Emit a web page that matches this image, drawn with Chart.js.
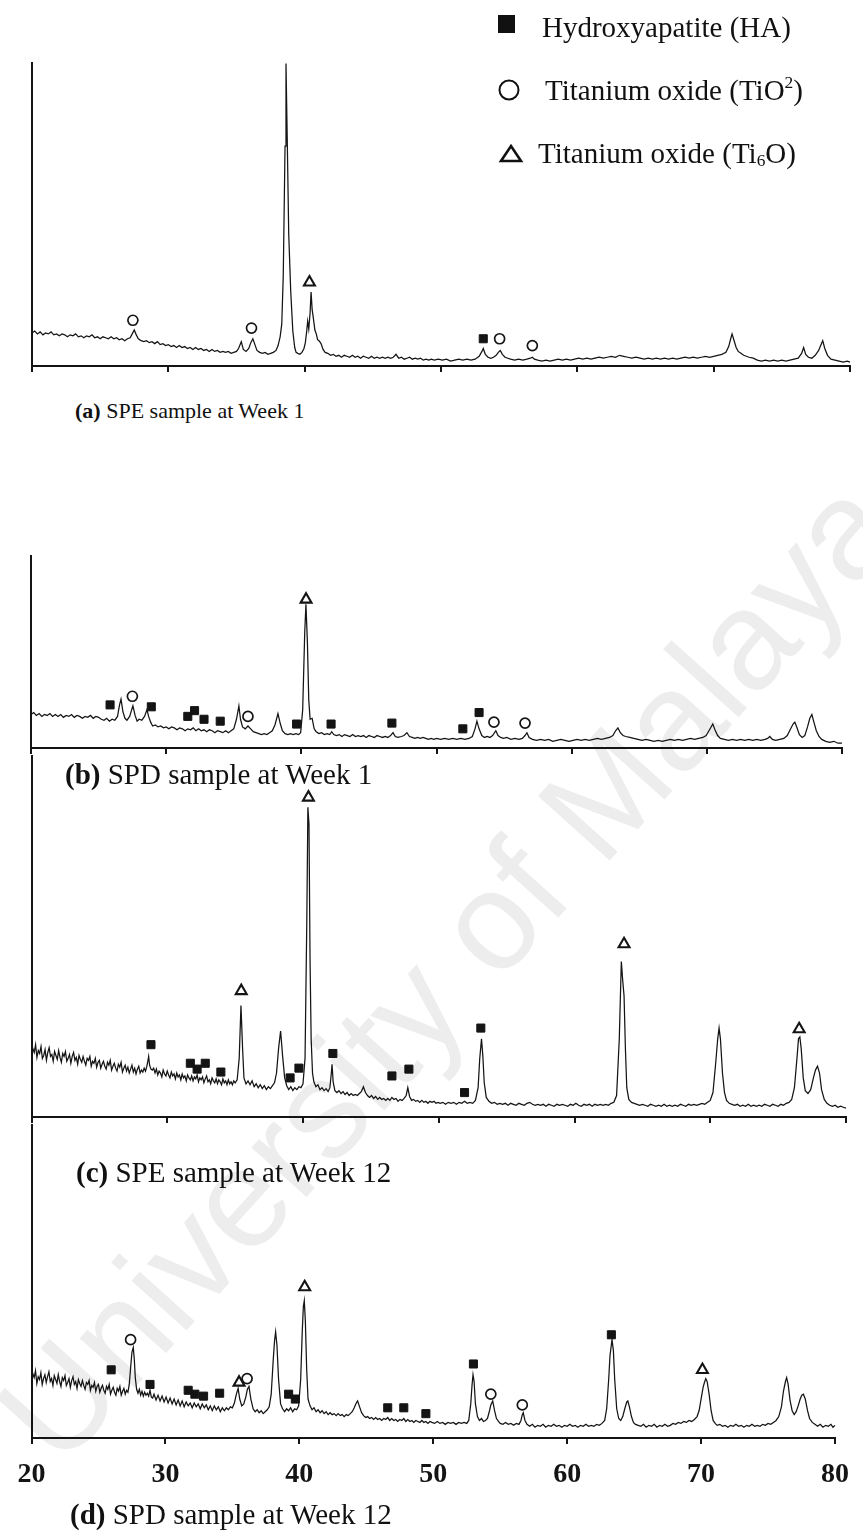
<!DOCTYPE html>
<html>
<head>
<meta charset="utf-8">
<script src="https://cdn.jsdelivr.net/npm/chart.js@4.4.0/dist/chart.umd.min.js"></script>
<style>
  html, body { margin: 0; padding: 0; background: #fff; }
  #page { position: relative; width: 863px; height: 1535px; overflow: hidden; background: #fff;
          font-family: "Liberation Serif", "Times New Roman", serif; color: #111; }
  .wm { position: absolute; white-space: nowrap; line-height: 1; font-size: 140px;
        font-family: "Liberation Sans", Arial, sans-serif; color: #ededed; z-index: 0; }
  canvas.panel { position: absolute; left: 0; z-index: 1; }
  .txt { position: absolute; white-space: nowrap; line-height: 1; z-index: 2; }
  .cap b { font-weight: bold; }
  #legendMarks { position: absolute; left: 0; top: 0; z-index: 2; }
  sup { font-size: 0.6em; vertical-align: 0.7em; line-height: 0; }
  sub { font-size: 0.6em; vertical-align: -0.15em; line-height: 0; }
</style>
</head>
<body>
<div id="page">
  <div class="wm" id="wm">University of Malaya</div>

  <canvas class="panel" id="pa"></canvas>
  <canvas class="panel" id="pb"></canvas>
  <canvas class="panel" id="pc"></canvas>
  <canvas class="panel" id="pd"></canvas>

  <svg id="legendMarks" width="863" height="200">
    <rect x="498" y="15" width="17" height="18" fill="#111"/>
    <circle cx="509" cy="90" r="9.5" fill="none" stroke="#111" stroke-width="2"/>
    <polygon points="501,161 521,161 511,146" fill="none" stroke="#111" stroke-width="2.6" stroke-linejoin="miter"/>
  </svg>
  <div class="txt cap" id="lg1"></div>
  <div class="txt cap" id="lg2"></div>
  <div class="txt cap" id="lg3"></div>

  <div class="txt cap" id="capA"></div>
  <div class="txt cap" id="capB"></div>
  <div class="txt cap" id="capC"></div>
  <div class="txt cap" id="capD"></div>
</div>

<script>
// ---- 2θ scan traces, intensity in arbitrary units above each baseline ----
const traceA = [[20.0,34],[20.2,36],[20.4,33],[20.6,35],[20.8,32],[21.0,34],[21.2,33],[21.4,35],[21.6,32],[21.8,33],[22.0,31],[22.2,33],[22.4,32],[22.6,30],[22.8,32],[23.0,31],[23.2,33],[23.4,30],[23.6,31],[23.8,29],[24.0,31],[24.2,30],[24.4,32],[24.6,29],[24.8,30],[25.0,28],[25.2,30],[25.4,29],[25.6,28],[25.8,30],[26.0,28],[26.2,29],[26.4,27],[26.6,28],[26.8,26],[27.0,28],[27.2,29],[27.35,33],[27.5,37],[27.65,32],[27.8,28],[28.0,26],[28.2,25],[28.4,26],[28.6,24],[28.8,25],[29.0,23],[29.2,25],[29.4,22],[29.6,23],[29.8,21],[30.0,22],[30.2,20],[30.4,21],[30.6,19],[30.8,21],[31.0,19],[31.2,20],[31.4,18],[31.6,19],[31.8,17],[32.0,19],[32.2,17],[32.4,18],[32.6,16],[32.8,17],[33.0,15],[33.2,17],[33.4,15],[33.6,16],[33.8,14],[34.0,15],[34.2,14],[34.4,15],[34.6,13],[34.8,14],[35.0,15],[35.15,18],[35.35,25],[35.5,17],[35.7,15],[35.9,18],[36.05,24],[36.2,28],[36.35,22],[36.5,16],[36.7,14],[36.9,13],[37.1,14],[37.3,12],[37.5,13],[37.7,14],[37.9,16],[38.05,21],[38.2,30],[38.32,43],[38.43,93],[38.56,226],[38.63,311],[38.73,226],[38.83,136],[38.98,76],[39.13,36],[39.27,19],[39.37,14],[39.5,13],[39.65,12],[39.8,14],[39.95,18],[40.05,24],[40.15,36],[40.22,46],[40.3,38],[40.4,55],[40.47,76],[40.55,58],[40.65,48],[40.75,37],[40.85,33],[40.95,27],[41.05,26],[41.2,23],[41.35,17],[41.5,14],[41.7,13],[41.9,11],[42.1,12],[42.3,10],[42.5,11],[42.7,9],[42.9,11],[43.1,10],[43.3,9],[43.5,11],[43.7,9],[43.9,10],[44.1,8],[44.3,10],[44.5,9],[44.7,8],[44.9,10],[45.1,8],[45.3,9],[45.5,8],[45.7,9],[45.9,8],[46.1,9],[46.3,8],[46.5,9],[46.7,12],[46.9,8],[47.1,9],[47.3,7],[47.5,8],[47.7,9],[47.9,7],[48.1,8],[48.3,7],[48.5,8],[48.7,6],[48.9,7],[49.1,6],[49.3,7],[49.5,6],[49.8,7],[50.1,6],[50.4,7],[50.7,5],[51.0,6],[51.3,7],[51.6,6],[51.9,7],[52.2,6],[52.5,7],[52.8,10],[53.0,15],[53.1,18],[53.25,12],[53.45,9],[53.65,8],[53.85,9],[54.05,11],[54.2,14],[54.35,16],[54.5,12],[54.7,9],[54.9,8],[55.1,7],[55.4,6],[55.7,7],[56.0,6],[56.3,7],[56.55,8],[56.7,9],[56.85,7],[57.1,6],[57.4,5],[57.7,6],[58.0,5],[58.3,6],[58.6,7],[58.9,6],[59.2,7],[59.5,6],[59.8,7],[60.1,8],[60.4,7],[60.7,8],[61.0,7],[61.3,8],[61.6,9],[61.9,8],[62.2,9],[62.5,10],[62.8,9],[63.1,11],[63.4,10],[63.7,9],[64.0,8],[64.3,9],[64.6,8],[64.9,7],[65.2,8],[65.5,7],[65.8,8],[66.1,7],[66.4,8],[66.7,7],[67.0,8],[67.3,7],[67.6,8],[67.9,9],[68.2,8],[68.5,9],[68.8,8],[69.1,9],[69.4,10],[69.7,9],[70.0,10],[70.3,11],[70.6,12],[70.9,14],[71.1,20],[71.25,28],[71.35,33],[71.5,26],[71.65,19],[71.8,15],[72.0,13],[72.2,11],[72.4,10],[72.6,9],[72.9,8],[73.2,6],[73.5,5],[73.8,6],[74.1,5],[74.4,6],[74.7,5],[75.0,6],[75.3,5],[75.6,6],[75.9,7],[76.2,8],[76.45,13],[76.6,19],[76.75,12],[76.95,9],[77.2,8],[77.45,11],[77.7,16],[77.85,21],[78.0,26],[78.15,18],[78.35,11],[78.6,7],[78.9,6],[79.2,5],[79.5,4],[79.8,5],[80.0,4]];

const traceB = [[20.0,35],[20.2,37],[20.4,34],[20.6,36],[20.8,33],[21.0,35],[21.2,34],[21.4,36],[21.6,33],[21.8,35],[22.0,33],[22.2,35],[22.4,32],[22.6,34],[22.8,33],[23.0,35],[23.2,32],[23.4,34],[23.6,33],[23.8,31],[24.0,33],[24.2,32],[24.4,34],[24.6,31],[24.8,33],[25.0,32],[25.2,30],[25.4,29],[25.6,31],[25.8,28],[26.0,30],[26.2,29],[26.4,33],[26.55,45],[26.66,51],[26.8,38],[26.95,31],[27.1,29],[27.3,33],[27.45,40],[27.54,44],[27.7,34],[27.85,28],[28.0,30],[28.2,29],[28.4,33],[28.58,40],[28.7,33],[28.85,27],[29.0,23],[29.2,24],[29.4,22],[29.6,23],[29.8,21],[30.0,22],[30.2,20],[30.4,22],[30.6,21],[30.8,19],[31.0,21],[31.2,20],[31.4,18],[31.6,20],[31.8,19],[32.0,21],[32.2,18],[32.4,20],[32.6,18],[32.8,19],[33.0,17],[33.2,19],[33.4,18],[33.6,16],[33.8,18],[34.0,17],[34.2,16],[34.4,18],[34.6,16],[34.8,18],[35.0,20],[35.2,30],[35.38,44],[35.5,30],[35.65,22],[35.85,20],[36.05,23],[36.25,20],[36.45,17],[36.65,16],[36.85,15],[37.05,14],[37.25,15],[37.45,14],[37.65,16],[37.85,18],[38.05,24],[38.27,36],[38.45,25],[38.6,18],[38.8,15],[39.0,14],[39.2,15],[39.4,14],[39.6,15],[39.8,14],[39.95,16],[40.1,40],[40.25,120],[40.34,150],[40.45,110],[40.55,50],[40.65,30],[40.8,31],[40.95,20],[41.1,17],[41.3,15],[41.5,16],[41.7,14],[41.9,15],[42.1,14],[42.25,17],[42.4,14],[42.6,13],[42.8,14],[43.0,12],[43.2,14],[43.4,13],[43.6,12],[43.8,14],[44.0,12],[44.2,13],[44.4,12],[44.6,13],[44.8,11],[45.0,13],[45.2,12],[45.4,11],[45.6,13],[45.8,12],[46.0,11],[46.2,12],[46.4,11],[46.6,13],[46.78,16],[46.95,12],[47.15,11],[47.4,12],[47.6,13],[47.81,16],[48.0,12],[48.2,11],[48.4,10],[48.6,11],[48.8,10],[49.0,11],[49.2,10],[49.4,9],[49.6,10],[49.8,9],[50.0,10],[50.3,9],[50.6,10],[50.9,9],[51.2,10],[51.5,9],[51.8,10],[52.1,9],[52.4,10],[52.65,12],[52.85,20],[52.99,28],[53.15,20],[53.35,13],[53.55,11],[53.75,12],[53.95,11],[54.15,13],[54.39,18],[54.55,13],[54.75,11],[54.95,10],[55.2,11],[55.5,9],[55.8,10],[56.1,9],[56.35,10],[56.55,13],[56.69,16],[56.85,11],[57.1,9],[57.4,8],[57.7,9],[58.0,8],[58.3,9],[58.6,7],[58.9,8],[59.2,9],[59.5,8],[59.8,7],[60.1,8],[60.4,9],[60.7,8],[61.0,9],[61.3,8],[61.6,9],[61.9,10],[62.2,9],[62.5,10],[62.8,11],[63.05,13],[63.25,18],[63.42,21],[63.6,16],[63.8,13],[64.0,12],[64.3,11],[64.6,10],[64.9,9],[65.2,8],[65.5,9],[65.8,8],[66.1,7],[66.4,8],[66.7,7],[67.0,8],[67.3,9],[67.6,8],[67.9,9],[68.2,8],[68.5,9],[68.8,10],[69.1,9],[69.4,10],[69.7,11],[69.95,13],[70.2,19],[70.44,25],[70.6,19],[70.8,13],[71.0,10],[71.3,9],[71.6,8],[71.9,9],[72.2,8],[72.5,9],[72.8,8],[73.1,9],[73.4,8],[73.7,9],[74.0,8],[74.3,9],[74.5,10],[74.66,12],[74.85,9],[75.1,8],[75.4,9],[75.7,10],[75.95,13],[76.2,20],[76.38,25],[76.51,27],[76.65,22],[76.85,14],[77.05,11],[77.25,13],[77.45,22],[77.62,31],[77.77,35],[77.92,27],[78.1,18],[78.3,12],[78.5,9],[78.8,7],[79.1,6],[79.4,7],[79.7,5],[80.0,5]];

const traceC = [[20.0,63],[20.1,70],[20.2,66],[20.3,74],[20.4,61],[20.5,68],[20.6,65],[20.7,72],[20.8,60],[20.9,63],[21.0,69],[21.1,58],[21.2,66],[21.3,71],[21.4,62],[21.5,64],[21.6,57],[21.7,67],[21.8,63],[21.9,59],[22.0,68],[22.1,61],[22.2,56],[22.3,65],[22.4,62],[22.5,67],[22.6,57],[22.7,60],[22.8,64],[22.9,55],[23.0,62],[23.1,66],[23.2,58],[23.3,61],[23.4,54],[23.5,63],[23.6,59],[23.7,56],[23.8,62],[23.9,57],[24.0,53],[24.1,60],[24.2,58],[24.3,62],[24.4,52],[24.5,57],[24.6,55],[24.7,60],[24.8,51],[24.9,56],[25.0,58],[25.1,50],[25.2,54],[25.3,57],[25.4,52],[25.5,49],[25.6,56],[25.7,53],[25.8,58],[25.9,48],[26.0,52],[26.1,55],[26.2,50],[26.3,47],[26.4,54],[26.5,51],[26.6,56],[26.7,46],[26.8,50],[26.9,53],[27.0,47],[27.1,51],[27.2,45],[27.3,49],[27.4,53],[27.5,46],[27.6,50],[27.7,44],[27.8,49],[27.9,52],[28.0,45],[28.1,48],[28.2,46],[28.3,50],[28.4,47],[28.5,52],[28.58,58],[28.63,62],[28.7,53],[28.8,49],[28.9,48],[29.0,50],[29.1,45],[29.2,49],[29.3,43],[29.4,47],[29.5,45],[29.6,41],[29.7,48],[29.8,44],[29.9,42],[30.0,47],[30.1,43],[30.2,40],[30.3,46],[30.4,42],[30.5,44],[30.6,39],[30.7,45],[30.8,41],[30.9,43],[31.0,38],[31.1,44],[31.2,40],[31.3,42],[31.4,37],[31.5,43],[31.6,40],[31.7,38],[31.8,42],[31.9,37],[32.0,41],[32.1,39],[32.2,43],[32.3,36],[32.4,40],[32.5,38],[32.6,41],[32.7,35],[32.8,39],[32.9,42],[33.0,36],[33.1,38],[33.2,34],[33.3,40],[33.4,37],[33.5,35],[33.6,39],[33.7,34],[33.8,38],[33.9,36],[34.0,33],[34.1,39],[34.2,35],[34.3,37],[34.4,33],[34.5,38],[34.6,34],[34.7,36],[34.8,33],[34.9,37],[35.0,35],[35.15,38],[35.3,60],[35.43,114],[35.55,70],[35.65,40],[35.8,34],[35.95,37],[36.1,33],[36.25,37],[36.4,31],[36.55,34],[36.7,30],[36.85,33],[37.0,29],[37.15,32],[37.3,28],[37.45,31],[37.6,29],[37.75,32],[37.9,35],[38.05,45],[38.2,70],[38.35,88],[38.5,62],[38.65,40],[38.8,32],[38.95,28],[39.1,31],[39.25,27],[39.4,30],[39.55,28],[39.7,31],[39.85,30],[40.0,34],[40.15,60],[40.28,200],[40.36,317],[40.44,300],[40.52,160],[40.6,80],[40.7,45],[40.8,36],[40.95,31],[41.1,33],[41.25,28],[41.4,30],[41.55,27],[41.7,29],[41.85,26],[41.98,30],[42.08,44],[42.14,54],[42.22,36],[42.35,27],[42.5,25],[42.65,27],[42.8,24],[42.95,26],[43.1,23],[43.25,25],[43.4,22],[43.55,24],[43.7,22],[43.85,23],[44.0,22],[44.15,24],[44.3,26],[44.45,31],[44.6,25],[44.75,22],[44.9,20],[45.05,22],[45.2,19],[45.35,21],[45.5,18],[45.65,20],[45.8,18],[45.95,19],[46.1,17],[46.25,19],[46.4,17],[46.55,20],[46.7,18],[46.85,19],[47.0,16],[47.15,18],[47.3,17],[47.45,19],[47.6,22],[47.72,30],[47.85,21],[48.0,17],[48.15,18],[48.3,16],[48.45,17],[48.6,15],[48.75,17],[48.9,15],[49.05,16],[49.2,14],[49.35,16],[49.5,15],[49.65,16],[49.8,14],[49.95,15],[50.1,14],[50.3,15],[50.5,13],[50.7,15],[50.9,14],[51.1,15],[51.3,13],[51.5,15],[51.7,14],[51.9,16],[52.1,14],[52.3,15],[52.5,14],[52.7,17],[52.9,30],[53.02,60],[53.15,80],[53.25,62],[53.35,35],[53.5,20],[53.7,16],[53.9,14],[54.1,15],[54.3,13],[54.5,14],[54.7,13],[54.9,14],[55.1,12],[55.3,14],[55.5,13],[55.7,12],[55.9,14],[56.1,13],[56.3,12],[56.5,14],[56.7,15],[56.9,13],[57.1,12],[57.3,13],[57.5,12],[57.7,13],[57.9,11],[58.1,13],[58.3,12],[58.5,11],[58.7,13],[58.9,12],[59.1,13],[59.3,12],[59.5,11],[59.7,13],[59.9,12],[60.1,14],[60.3,12],[60.5,11],[60.7,13],[60.9,12],[61.1,13],[61.3,11],[61.5,13],[61.7,12],[61.9,13],[62.1,12],[62.3,13],[62.5,12],[62.7,14],[62.9,15],[63.1,22],[63.3,80],[63.45,159],[63.55,140],[63.65,124],[63.75,70],[63.85,30],[64.0,18],[64.2,15],[64.4,14],[64.6,13],[64.8,12],[65.0,13],[65.2,12],[65.4,11],[65.6,13],[65.8,12],[66.0,11],[66.2,12],[66.4,11],[66.6,13],[66.8,11],[67.0,12],[67.2,11],[67.4,12],[67.6,11],[67.8,13],[68.0,12],[68.2,11],[68.4,13],[68.6,12],[68.8,13],[69.0,12],[69.2,13],[69.4,14],[69.6,13],[69.8,15],[70.0,17],[70.2,25],[70.4,55],[70.55,80],[70.65,91],[70.75,80],[70.9,45],[71.05,25],[71.2,17],[71.4,14],[71.6,13],[71.8,12],[72.0,13],[72.2,11],[72.4,12],[72.6,11],[72.8,13],[73.0,11],[73.2,12],[73.4,11],[73.6,12],[73.8,11],[74.0,13],[74.2,12],[74.4,11],[74.6,13],[74.8,12],[75.0,11],[75.2,13],[75.4,12],[75.6,14],[75.8,15],[76.0,18],[76.2,30],[76.4,62],[76.5,80],[76.6,82],[76.7,70],[76.85,40],[77.0,27],[77.2,24],[77.4,28],[77.6,40],[77.75,48],[77.9,52],[78.05,45],[78.2,28],[78.4,18],[78.6,14],[78.8,12],[79.0,11],[79.2,12],[79.4,10],[79.6,11],[79.8,10],[80.0,9]];

const traceD = [[20.0,59],[20.1,66],[20.2,62],[20.3,69],[20.4,56],[20.5,63],[20.6,60],[20.7,67],[20.8,55],[20.9,61],[21.0,65],[21.1,57],[21.2,63],[21.3,68],[21.4,58],[21.5,61],[21.6,54],[21.7,64],[21.8,60],[21.9,56],[22.0,65],[22.1,58],[22.2,53],[22.3,62],[22.4,59],[22.5,64],[22.6,54],[22.7,57],[22.8,61],[22.9,52],[23.0,59],[23.1,63],[23.2,55],[23.3,58],[23.4,51],[23.5,60],[23.6,56],[23.7,53],[23.8,59],[23.9,54],[24.0,50],[24.1,57],[24.2,55],[24.3,59],[24.4,49],[24.5,54],[24.6,52],[24.7,57],[24.8,48],[24.9,53],[25.0,55],[25.1,47],[25.2,51],[25.3,54],[25.4,49],[25.5,46],[25.6,53],[25.7,50],[25.8,55],[25.9,45],[26.0,49],[26.1,52],[26.2,47],[26.3,44],[26.4,51],[26.5,48],[26.6,53],[26.7,44],[26.8,48],[26.9,51],[27.0,45],[27.1,49],[27.2,47],[27.3,55],[27.4,72],[27.5,88],[27.6,93],[27.68,80],[27.75,62],[27.85,50],[27.95,46],[28.05,50],[28.15,44],[28.25,48],[28.35,43],[28.45,47],[28.55,44],[28.65,46],[28.75,43],[28.85,49],[28.95,42],[29.05,41],[29.15,45],[29.3,39],[29.45,44],[29.6,38],[29.75,43],[29.9,37],[30.05,42],[30.2,36],[30.35,41],[30.5,35],[30.65,40],[30.8,34],[30.95,39],[31.1,33],[31.25,38],[31.4,32],[31.55,37],[31.7,33],[31.85,36],[32.0,31],[32.15,36],[32.3,32],[32.45,35],[32.6,30],[32.75,35],[32.9,31],[33.05,34],[33.2,29],[33.35,33],[33.5,28],[33.65,33],[33.8,29],[33.95,32],[34.1,27],[34.25,31],[34.4,28],[34.55,31],[34.7,29],[34.85,32],[35.0,31],[35.15,36],[35.3,45],[35.43,51],[35.55,40],[35.7,33],[35.85,35],[36.0,42],[36.12,50],[36.24,53],[36.38,40],[36.55,30],[36.7,27],[36.85,29],[37.0,26],[37.15,28],[37.3,25],[37.45,27],[37.6,29],[37.75,32],[37.9,45],[38.05,80],[38.15,100],[38.23,109],[38.33,95],[38.45,60],[38.6,35],[38.75,30],[38.9,27],[39.05,30],[39.2,28],[39.35,31],[39.5,27],[39.65,30],[39.8,29],[39.95,33],[40.1,60],[40.22,110],[40.3,135],[40.37,141],[40.45,120],[40.55,70],[40.65,40],[40.8,33],[40.95,29],[41.1,31],[41.25,27],[41.4,29],[41.55,26],[41.7,28],[41.85,25],[42.0,27],[42.15,24],[42.3,26],[42.45,24],[42.6,25],[42.75,23],[42.9,25],[43.05,23],[43.2,24],[43.35,22],[43.5,24],[43.65,23],[43.8,25],[43.95,27],[44.1,31],[44.25,36],[44.35,38],[44.5,32],[44.65,26],[44.8,23],[44.95,21],[45.1,22],[45.25,20],[45.4,21],[45.55,19],[45.7,21],[45.85,19],[46.0,20],[46.15,18],[46.3,20],[46.45,19],[46.6,21],[46.75,18],[46.9,20],[47.05,18],[47.2,19],[47.35,17],[47.5,19],[47.65,18],[47.8,20],[47.95,17],[48.1,19],[48.25,17],[48.4,18],[48.55,16],[48.7,18],[48.85,17],[49.0,16],[49.15,18],[49.3,16],[49.45,17],[49.6,15],[49.75,17],[49.9,16],[50.1,15],[50.3,17],[50.5,15],[50.7,16],[50.9,14],[51.1,16],[51.3,15],[51.5,16],[51.7,14],[51.9,16],[52.1,15],[52.3,16],[52.5,15],[52.65,18],[52.8,35],[52.9,55],[52.97,65],[53.05,58],[53.15,35],[53.3,22],[53.45,18],[53.6,20],[53.75,17],[53.9,18],[54.05,20],[54.2,28],[54.3,34],[54.44,38],[54.58,28],[54.72,20],[54.87,17],[55.0,15],[55.2,14],[55.4,16],[55.6,14],[55.8,15],[56.0,13],[56.2,15],[56.4,14],[56.55,18],[56.65,24],[56.72,26],[56.85,18],[57.0,14],[57.2,12],[57.4,14],[57.6,11],[57.8,13],[58.0,12],[58.2,14],[58.4,11],[58.6,13],[58.8,12],[59.0,14],[59.2,12],[59.4,13],[59.6,11],[59.8,13],[60.0,12],[60.2,14],[60.4,12],[60.6,13],[60.8,11],[61.0,13],[61.2,12],[61.4,14],[61.6,12],[61.8,13],[62.0,12],[62.2,14],[62.4,13],[62.6,15],[62.8,18],[62.95,30],[63.1,60],[63.2,85],[63.35,101],[63.45,90],[63.55,60],[63.7,30],[63.85,20],[64.0,18],[64.15,22],[64.3,30],[64.45,37],[64.53,38],[64.65,32],[64.8,22],[64.95,16],[65.1,14],[65.3,13],[65.5,12],[65.7,14],[65.9,11],[66.1,13],[66.3,12],[66.5,14],[66.7,11],[66.9,13],[67.1,12],[67.3,14],[67.5,12],[67.7,13],[67.9,15],[68.1,14],[68.3,16],[68.5,15],[68.7,17],[68.9,16],[69.1,18],[69.3,17],[69.5,19],[69.7,22],[69.85,28],[70.0,40],[70.15,52],[70.25,57],[70.35,61],[70.45,58],[70.6,45],[70.75,28],[70.9,18],[71.05,15],[71.2,13],[71.4,14],[71.6,12],[71.8,13],[72.0,11],[72.2,13],[72.4,12],[72.6,14],[72.8,12],[73.0,13],[73.2,11],[73.4,13],[73.6,12],[73.8,14],[74.0,12],[74.2,13],[74.4,12],[74.6,14],[74.8,13],[75.0,15],[75.2,14],[75.4,16],[75.6,18],[75.8,22],[76.0,32],[76.15,48],[76.3,58],[76.39,62],[76.5,55],[76.65,38],[76.8,28],[76.95,24],[77.1,27],[77.25,33],[77.4,40],[77.52,44],[77.64,45],[77.78,40],[77.95,28],[78.1,20],[78.3,16],[78.5,14],[78.7,12],[78.9,14],[79.1,11],[79.3,13],[79.5,12],[79.7,14],[79.85,11],[80.0,13]];

// ---- phase identification marks: [2θ, height of the mark] ----
const haA = [[53.1,28]];
const tio2A = [[27.4,47],[36.1,39],[54.3,28],[56.7,21]];
const ti6oA = [[40.35,86]];

const haB = [[25.85,45],[28.9,43],[31.6,33],[32.1,39],[32.8,30],[34.0,28],[39.65,25],[42.2,25],[46.7,26],[51.95,20],[53.15,37]];
const tio2B = [[27.5,54],[36.05,33],[54.25,27],[56.55,26]];
const ti6oB = [[40.35,155]];

const haC = [[28.8,74],[31.7,55],[32.2,49],[32.8,55],[33.95,46],[39.05,40],[39.7,50],[42.2,65],[46.55,42],[47.8,49],[51.9,25],[53.1,91]];
const tio2C = [];
const ti6oC = [[35.45,129],[40.4,327],[63.65,177],[76.55,90]];

const haD = [[25.95,70],[28.85,55],[31.7,49],[32.2,45],[32.85,43],[34.05,46],[39.2,45],[39.7,40],[46.6,31],[47.8,31],[49.45,25],[53.0,76],[63.3,106]];
const tio2D = [[27.4,101],[36.1,61],[54.3,45],[56.65,34]];
const ti6oD = [[35.5,57],[40.4,155],[70.1,70]];

// ---- axis ticks and texts ----
const angleTicks = [20, 30, 40, 50, 60, 70, 80];
const legendNames = ['Hydroxyapatite (HA)', 'Titanium oxide (TiO<sup>2</sup>)', 'Titanium oxide (Ti<sub>6</sub>O)'];
const panelTags = ['(a)', '(b)', '(c)', '(d)'];
const panelNames = ['SPE sample at Week 1', 'SPD sample at Week 1', 'SPE sample at Week 12', 'SPD sample at Week 12'];

// ---- page layout (pixels) ----
const PAGE_W = 863;
const frames = {
  a: { top: 55,   axis: 366,  x0: 32,   x1: 850 },
  b: { top: 548,  axis: 748,  x0: 31,   x1: 842 },
  c: { top: 748,  axis: 1117, x0: 31.5, x1: 846 },
  d: { top: 1117, axis: 1438, x0: 31.5, x1: 846 }
};

const INK = '#141414';

function toXY(arr) { return arr.map(p => ({ x: p[0], y: p[1] })); }

function markSet(points, style, radius, fill, bw) {
  return {
    type: 'scatter',
    data: toXY(points),
    showLine: false,
    pointStyle: style,
    pointRadius: radius,
    pointBackgroundColor: fill,
    pointBorderColor: INK,
    pointBorderWidth: bw,
    clip: false,
    order: 0
  };
}

function drawPanel(canvasId, fr, trace, ha, tio2, ti6o, withLabels) {
  const cv = document.getElementById(canvasId);
  const axisH = withLabels ? 62 : 10;
  const plotH = fr.axis - fr.top;
  cv.width = PAGE_W;
  cv.height = plotH + axisH;
  cv.style.top = fr.top + 'px';
  cv.style.width = PAGE_W + 'px';
  cv.style.height = (plotH + axisH) + 'px';

  new Chart(cv, {
    type: 'line',
    data: {
      datasets: [
        { data: toXY(trace), borderColor: INK, borderWidth: 1.25, pointRadius: 0, tension: 0, fill: false, clip: false, order: 1 },
        markSet(ha, 'rect', 5.7, INK, 1),
        markSet(tio2, 'circle', 5, '#ffffff', 1.7),
        markSet(ti6o, 'triangle', 6.3, '#ffffff', 2.1)
      ]
    },
    options: {
      responsive: false,
      animation: false,
      devicePixelRatio: 1,
      events: [],
      layout: { padding: { left: fr.x0, right: PAGE_W - fr.x1, top: 0, bottom: 0 } },
      plugins: { legend: { display: false }, tooltip: { enabled: false } },
      scales: {
        x: {
          type: 'linear', min: 20, max: 80,
          afterBuildTicks: s => { s.ticks = angleTicks.map(v => ({ value: v })); },
          afterFit: s => { s.height = axisH; },
          ticks: {
            display: withLabels, maxRotation: 0, autoSkip: false, padding: 14,
            color: INK, font: { family: '"Liberation Serif", "Times New Roman", serif', size: 28, weight: 'bold' }
          },
          grid: { display: true, drawOnChartArea: false, drawTicks: true, tickLength: 6, tickWidth: 2, tickColor: INK, color: INK, lineWidth: 2 },
          border: { display: true, color: INK, width: 2 }
        },
        y: {
          min: 0, max: plotH,
          afterFit: s => { s.width = 0; },
          ticks: { display: false },
          grid: { display: false, drawTicks: false },
          border: { display: true, color: INK, width: 2 }
        }
      }
    }
  });
}

drawPanel('pa', frames.a, traceA, haA, tio2A, ti6oA, false);
drawPanel('pb', frames.b, traceB, haB, tio2B, ti6oB, false);
drawPanel('pc', frames.c, traceC, haC, tio2C, ti6oC, false);
drawPanel('pd', frames.d, traceD, haD, tio2D, ti6oD, true);

// ---- text placement: baseline-anchored (line-height 1 → baseline ≈ 0.8375 em below box top) ----
function placeText(id, html, left, baseline, size) {
  const el = document.getElementById(id);
  el.innerHTML = html;
  el.style.fontSize = size + 'px';
  el.style.left = left + 'px';
  el.style.top = (baseline - 0.8375 * size) + 'px';
}

placeText('lg1', legendNames[0], 542, 37, 29);
placeText('lg2', legendNames[1], 545, 100, 29);
placeText('lg3', legendNames[2], 538, 163, 29);

placeText('capA', '<b>' + panelTags[0] + '</b> ' + panelNames[0], 75, 418, 22);
placeText('capB', '<b>' + panelTags[1] + '</b> ' + panelNames[1], 65, 784, 29);
placeText('capC', '<b>' + panelTags[2] + '</b> ' + panelNames[2], 76, 1182, 29);
placeText('capD', '<b>' + panelTags[3] + '</b> ' + panelNames[3], 70, 1524, 29);

// background mark, rotated about its baseline start
(function () {
  const wm = document.getElementById('wm');
  const size = 140, asc = 0.8465 * size;
  wm.style.left = '61px';
  wm.style.top = (1471 - asc) + 'px';
  wm.style.transformOrigin = '0px ' + asc + 'px';
  wm.style.transform = 'rotate(-48deg)';
})();
</script>
</body>
</html>
